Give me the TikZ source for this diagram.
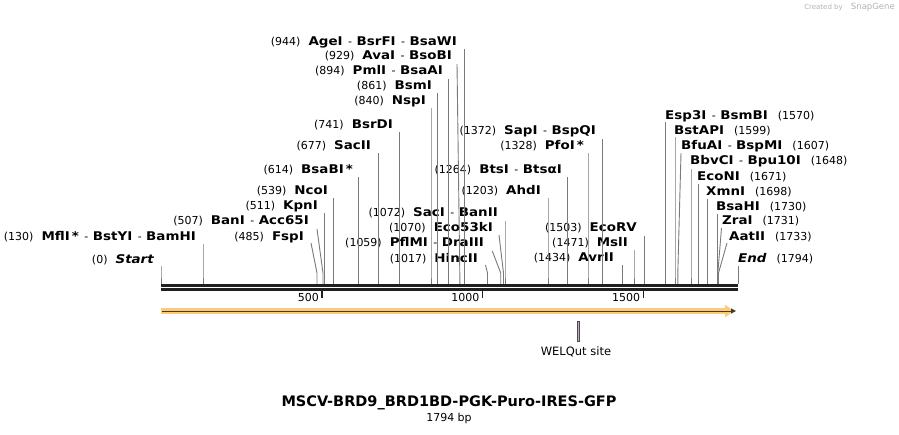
\documentclass[tikz,border=0pt]{standalone}
\usepackage{fontspec}
\setmainfont{DejaVu Sans}
\newfontface\vb[FakeStretch=1.12]{DejaVu Sans Bold}
\newfontface\vbi[FakeStretch=1.12]{DejaVu Sans Bold Oblique}
\usetikzlibrary{arrows.meta}
\definecolor{siteline}{HTML}{7A7A7A}
\definecolor{axisc}{HTML}{202020}
\definecolor{bandc}{HTML}{FBCB7A}
\definecolor{arrowc}{HTML}{4A3A20}
\definecolor{welq}{HTML}{C9A3C9}
\newcommand{\nm}[1]{{\vb\fontsize{12}{14}\selectfont #1}}
\newcommand{\nmi}[1]{{\vbi\fontsize{12}{14}\selectfont #1}}
\newcommand{\nb}[1]{{\fontsize{11}{13}\selectfont (#1)}}
\newcommand{\sepr}{\hspace{5.5pt}{\fontsize{11}{13}\selectfont -}\hspace{4.5pt}}
\newcommand{\gp}{\hspace{8pt}}
\newcommand{\gq}{\hspace{10pt}}
\newcommand{\site}[4]{\coordinate (t#1) at (#3,#4); \coordinate (k#1) at (#2,273); \coordinate (b#1) at (#2,284); \draw[siteln] (t#1) -- (k#1) -- (b#1);}
\tikzset{
  labl/.style={inner sep=0pt, anchor=east},
  labr/.style={inner sep=0pt, anchor=west},
  siteln/.style={draw=siteline, line width=0.9pt},
  axisln/.style={draw=axisc, line width=2.6pt},
  tickln/.style={draw=axisc, line width=1.6pt},
  ticklab/.style={inner sep=0pt, anchor=east, font=\fontsize{11}{13}\selectfont},
}
\begin{document}
\begin{tikzpicture}[x=1pt,y=-1pt]
\useasboundingbox (0,0) rectangle (899,434);
% labels left of lines
\node[labl] (l0) at (154,260) {\nb{0}\gp\nmi{Start}};
\node[labl] (l130) at (196,237) {\nb{130}\gp\nm{MflI\,*}\sepr\nm{BstYI}\sepr\nm{BamHI}};
\node[labl] (l507) at (309,221) {\nb{507}\gp\nm{BanI}\sepr\nm{Acc65I}};
\node[labl] (l485) at (304,237) {\nb{485}\gp\nm{FspI}};
\node[labl] (l511) at (318,206) {\nb{511}\gp\nm{KpnI}};
\node[labl] (l539) at (328,191) {\nb{539}\gp\nm{NcoI}};
\node[labl] (l614) at (353,170) {\nb{614}\gp\nm{BsaBI\,*}};
\node[labl] (l677) at (371,146) {\nb{677}\gp\nm{SacII}};
\node[labl] (l741) at (393,125) {\nb{741}\gp\nm{BsrDI}};
\node[labl] (l840) at (426,101) {\nb{840}\gp\nm{NspI}};
\node[labl] (l861) at (432,86) {\nb{861}\gp\nm{BsmI}};
\node[labl] (l894) at (443,71) {\nb{894}\gp\nm{PmlI}\sepr\nm{BsaAI}};
\node[labl] (l929) at (452,56) {\nb{929}\gp\nm{AvaI}\sepr\nm{BsoBI}};
\node[labl] (l944) at (457,42) {\nb{944}\gp\nm{AgeI}\sepr\nm{BsrFI}\sepr\nm{BsaWI}};
\node[labl] (l1017) at (478,259) {\nb{1017}\gp\nm{HincII}};
\node[labl] (l1059) at (484,243) {\nb{1059}\gp\nm{PflMI}\sepr\nm{DraIII}};
\node[labl] (l1070) at (493,228) {\nb{1070}\gp\nm{Eco53kI}};
\node[labl] (l1072) at (498,213) {\nb{1072}\gp\nm{SacI}\sepr\nm{BanII}};
\node[labl] (l1203) at (541,191) {\nb{1203}\gp\nm{AhdI}};
\node[labl] (l1264) at (562,170) {\nb{1264}\gp\nm{BtsI}\sepr\nm{BtsαI}};
\node[labl] (l1328) at (584,146) {\nb{1328}\gp\nm{PfoI\,*}};
\node[labl] (l1372) at (596,131) {\nb{1372}\gp\nm{SapI}\sepr\nm{BspQI}};
\node[labl] (l1434) at (614,258) {\nb{1434}\gp\nm{AvrII}};
\node[labl] (l1471) at (628,243) {\nb{1471}\gp\nm{MslI}};
\node[labl] (l1503) at (637,228) {\nb{1503}\gp\nm{EcoRV}};
% labels right of lines
\node[labr] (l1570) at (665,116) {\nm{Esp3I}\sepr\nm{BsmBI}\gq\nb{1570}};
\node[labr] (l1599) at (674,131) {\nm{BstAPI}\gq\nb{1599}};
\node[labr] (l1607) at (681,146) {\nm{BfuAI}\sepr\nm{BspMI}\gq\nb{1607}};
\node[labr] (l1648) at (690,161) {\nm{BbvCI}\sepr\nm{Bpu10I}\gq\nb{1648}};
\node[labr] (l1671) at (697,177) {\nm{EcoNI}\gq\nb{1671}};
\node[labr] (l1698) at (706,192) {\nm{XmnI}\gq\nb{1698}};
\node[labr] (l1730) at (716,207) {\nm{BsaHI}\gq\nb{1730}};
\node[labr] (l1731) at (722,221) {\nm{ZraI}\gq\nb{1731}};
\node[labr] (l1733) at (729,237) {\nm{AatII}\gq\nb{1733}};
\node[labr] (l1794) at (738,259) {\nmi{End}\gq\nb{1794}};
% site lines
\site{0}{161}{161}{266}
\site{130}{203}{203}{244}
\site{485}{317}{311}{243}
\site{507}{323}{317}{229}
\site{511}{324.5}{324.5}{213}
\site{539}{333.5}{333.5}{198}
\site{614}{358.5}{358.5}{177}
\site{677}{378.7}{378.7}{153}
\site{741}{399.3}{399.3}{132}
\site{840}{431}{431}{108}
\site{861}{437.9}{437.9}{93}
\site{894}{448.5}{448.5}{79}
\site{929}{459.8}{457}{64}
\site{944}{464.6}{464.6}{49}
\site{1017}{487.5}{485.5}{265}
\site{1059}{500.7}{492.3}{251}
\site{1070}{503.5}{499}{235}
\site{1072}{505}{505}{221}
\site{1203}{548}{548}{198}
\site{1264}{567.5}{567.5}{177}
\site{1328}{588}{588}{153}
\site{1372}{602.2}{602.2}{139}
\site{1434}{622.2}{622.2}{265}
\site{1471}{634}{634}{250}
\site{1503}{644.4}{644.4}{236}
\site{1570}{665.9}{665.9}{122}
\site{1599}{675}{675}{137}
\site{1607}{677.8}{681}{153}
\site{1648}{691}{691}{169}
\site{1671}{698}{698}{184}
\site{1698}{707}{707}{199}
\site{1730}{717.3}{717.3}{214}
\site{1731}{717.8}{721.5}{228}
\site{1733}{718.5}{727}{243}
\site{1794}{738}{738}{266}
% axis
\coordinate (a1) at (161,285.5); \coordinate (a2) at (738,285.5);
\coordinate (c1) at (161,289.6); \coordinate (c2) at (738,289.6);
\draw[axisln] (a1) -- (a2);
\draw[axisln] (c1) -- (c2);
% ticks
\foreach \x/\t in {322/500, 482.6/1000, 643.4/1500}{
  \draw[tickln] (\x,290) -- (\x,297.5);
  \node[ticklab] at (\x-3,297) {\t};
}
% feature arrow
\coordinate (f1) at (161,311); \coordinate (f2) at (738,311);
\draw[bandc, line width=6pt, -{Triangle[length=9pt,width=12pt]}] (f1) -- ([xshift=-4pt]f2);
\draw[arrowc, line width=1pt, -{Triangle[length=5pt,width=5pt]}] ([xshift=1pt]f1) -- ([xshift=-2pt]f2);
% WELQut site
\node[draw=black!70, fill=welq, line width=0.6pt, minimum width=2.5pt, minimum height=20pt, inner sep=0pt] (wq) at (578.5,331) {};
\node[inner sep=0pt, font=\fontsize{11.5}{13}\selectfont] (wqlab) at (576,352) {WELQut site};
% title
\node[inner sep=0pt, font=\fontsize{14.5}{16}\selectfont\bfseries] (title) at (449,403) {MSCV-BRD9\_BRD1BD-PGK-Puro-IRES-GFP};
\node[inner sep=0pt, font=\fontsize{11}{13}\selectfont] (bp) at (449,418) {1794 bp};
% watermark
\node[inner sep=0pt, anchor=east, text=black!30, font=\fontsize{7}{8}\selectfont] (wm) at (895,7) {Created by \hspace{6pt}{\fontsize{8.5}{9}\selectfont SnapGene}};
\end{tikzpicture}
\end{document}
